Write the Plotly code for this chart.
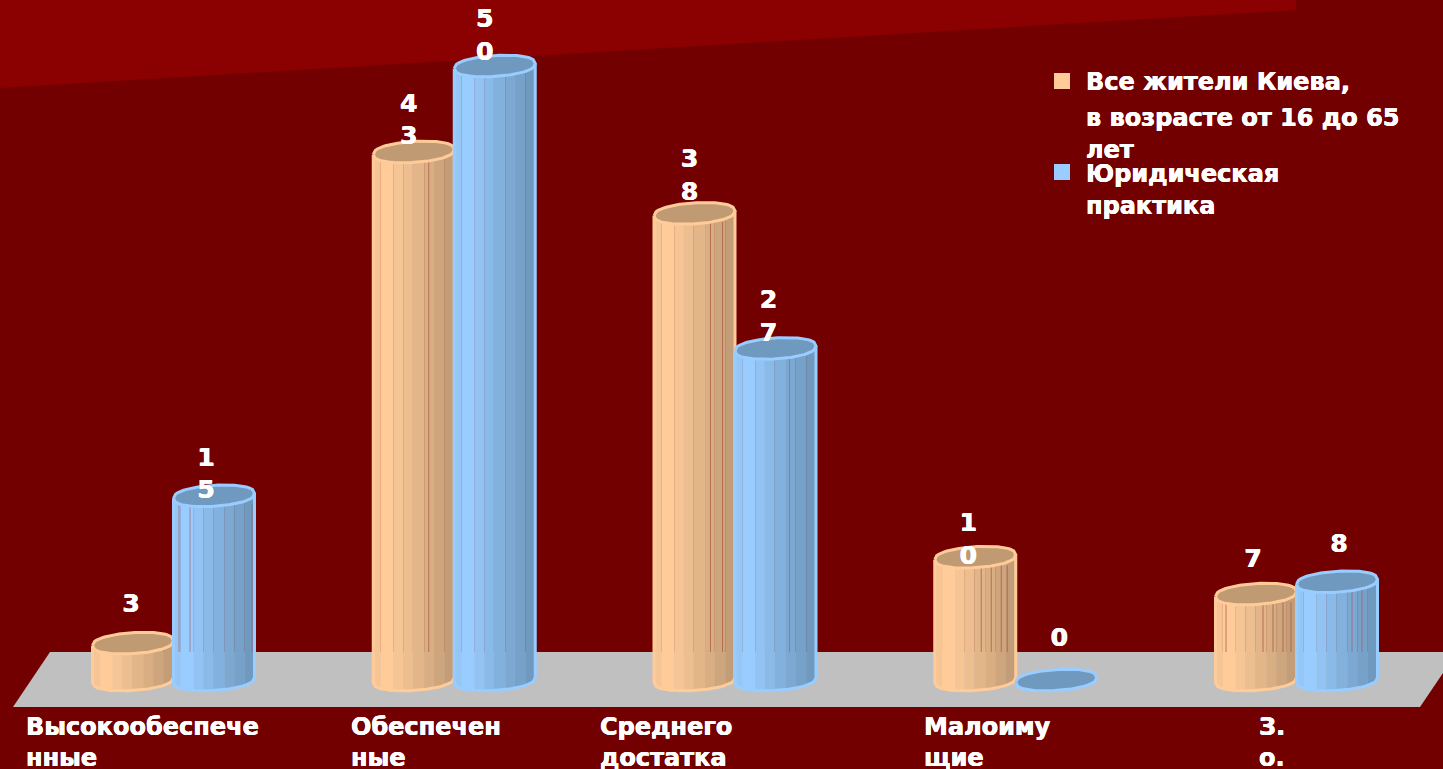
import numpy as np
import plotly.graph_objects as go

# ---- data ----
categories = ["Высокообеспече<br>нные", "Обеспечен<br>ные", "Среднего<br>достатка", "Малоиму<br>щие", "З.<br>о."]
series_kiev = [3, 43, 38, 10, 7]
series_legal = [15, 50, 27, 0, 8]
legend_lines_kiev = ["Все жители Киева,", "в возрасте от 16 до 65", "лет"]
legend_lines_legal = ["Юридическая", "практика"]

# ---- geometry / style ----
W, H = 1443, 769
CAT0_PX, CAT_STEP_PX = 173.5, 280.75
BAR_W_PX, PX_PER_UNIT, ZERO_PX = 81.0, 12.28, 680.0
RY_PX, TILT_PX = 10.5, 2.5
FONT = "DejaVu Sans"
TEXT_SIZE = 24
LABEL_SIZE = 25
SHADOW = "0.35px 0 0 white, -0.35px 0 0 white"
BG = "#730000"
PEACH_STRIPES = ["#F6C596", "#FFCC99", "#F6C595", "#ECBE90", "#E3B68A", "#D9AE83", "#CEA67D", "#C29D77"]
BLUE_STRIPES = ["#94C6F6", "#99CCFF", "#92C3F3", "#8ABAE8", "#83B1DD", "#7CA8D2", "#76A1C8", "#6F99BF"]
STRIPE_EDGES = [-1, -0.82, -0.5, -0.26, -0.02, 0.26, 0.5, 0.76, 1]

sx = 1 / CAT_STEP_PX
sy = 1 / PX_PER_UNIT
half_w = BAR_W_PX / 2 * sx
ry = RY_PX * sy
tilt = TILT_PX * sy
centers = np.arange(len(categories), dtype=float)


def lower(u):
    return -ry * np.clip(1 - u**2, 0, 1) ** 0.42 + tilt * u


def upper(u):
    return ry * np.clip(1 - u**2, 0, 1) ** 0.42 + tilt * u


def stripes(cxs, vals, u0, u1):
    xs, ys = [], []
    us = np.linspace(u0, u1, 10)
    for c, v in zip(cxs, vals):
        xs += list(c + us * half_w) + list(c + us[::-1] * half_w) + [None]
        ys += list(v + tilt * us) + list(lower(us[::-1])) + [None]
    return xs, ys


def body_outline(cxs, vals):
    xs, ys = [], []
    us = np.linspace(-1, 1, 41)
    for c, v in zip(cxs, vals):
        xs += [c - half_w] + list(c + us * half_w) + [c + half_w, None]
        ys += [v - tilt] + list(lower(us)) + [v + tilt, None]
    return xs, ys


def top_cap(cxs, vals):
    xs, ys = [], []
    us = np.linspace(-1, 1, 41)
    for c, v in zip(cxs, vals):
        xs += list(c + us * half_w) + list(c + us[::-1] * half_w) + [None]
        ys += list(v + upper(us)) + list(v + lower(us[::-1])) + [None]
    return xs, ys


fig = go.Figure()


def add_series(vals, side, colors, cap, edge, seams, seam_color, label_dx, label_dy):
    cxs = centers + side * half_w
    for k, col in enumerate(colors):
        xs, ys = stripes(cxs, vals, STRIPE_EDGES[k], STRIPE_EDGES[k + 1])
        fig.add_trace(go.Scatter(x=xs, y=ys, mode="lines", fill="toself", fillcolor=col,
                                 line=dict(width=0.5, color=col), hoverinfo="skip"))
    # thin seams visible above the floor
    sxs, sys = [], []
    floor_top = (ZERO_PX - 652) * sy
    for c, v, offs in zip(cxs, vals, seams):
        for o in offs:
            if v > floor_top:
                sxs += [c + o * sx, c + o * sx, None]
                sys += [floor_top, v - ry * 0.8, None]
    fig.add_trace(go.Scatter(x=sxs, y=sys, mode="lines", line=dict(width=1, color=seam_color), hoverinfo="skip"))
    xs, ys = body_outline(cxs, vals)
    fig.add_trace(go.Scatter(x=xs, y=ys, mode="lines", line=dict(width=3, color=edge), hoverinfo="skip"))
    xs, ys = top_cap(cxs, vals)
    fig.add_trace(go.Scatter(x=xs, y=ys, mode="lines", fill="toself", fillcolor=cap,
                             line=dict(width=3, color=edge), hoverinfo="skip"))
    texts = ["<br>".join(str(v)) for v in vals]
    fig.add_trace(go.Scatter(
        x=cxs + np.array(label_dx) * sx,
        y=np.array(vals, dtype=float) + np.array(label_dy) * sy,
        mode="text", text=texts, textposition="middle center", cliponaxis=False,
        textfont=dict(family=FONT, size=LABEL_SIZE, color="white", weight="bold", shadow=SHADOW),
        hoverinfo="skip"))


add_series(series_kiev, -1, PEACH_STRIPES, "#BF9A73", "#FFCC99",
           [[], [15], [16, 28], [6, 16, 26, 32], [-30, 7, 17, 27, 35]], "rgba(170,90,70,0.75)",
           [-2, -5, -5, -7, -3], [37, 30, 36, 16, 33])
add_series(series_legal, 1, BLUE_STRIPES, "#7099BF", "#99CCFF",
           [[-35, -24, 38], [], [14], [], [15, 25]], "rgba(170,90,90,0.65)",
           [-8, -10, -7, 3, 2], [20, 29, 30, 40, 36])


def poly(pts):
    return "M " + " L ".join(f"{x / W:.5f},{1 - y / H:.5f}" for x, y in pts) + " Z"


shapes = [
    dict(type="path", xref="paper", yref="paper", layer="below", line_width=0, fillcolor="#8B0000",
         path=poly([(0, 0), (1296, 0), (1296, 10), (0, 88)])),
    dict(type="path", xref="paper", yref="paper", layer="below", line_width=0, fillcolor="#C0C0C0",
         path=poly([(50, 652), (1443, 652), (1443, 673), (1420, 707), (13, 707)])),
    dict(type="rect", xref="paper", yref="paper", line_width=0, fillcolor="#FFCC99",
         x0=1054 / W, x1=1070 / W, y0=1 - 89 / H, y1=1 - 73 / H),
    dict(type="rect", xref="paper", yref="paper", line_width=0, fillcolor="#99CCFF",
         x0=1054 / W, x1=1070 / W, y0=1 - 180 / H, y1=1 - 164 / H),
]

annotations = []
label_left_px = [23.5, 348.5, 597.5, 922.5, 1256.5]
text_font = dict(family=FONT, size=TEXT_SIZE, color="white", weight="bold", shadow=SHADOW)
for name, lx in zip(categories, label_left_px):
    annotations.append(dict(xref="paper", yref="paper", x=lx / W, y=1 - 742 / H, text=name, showarrow=False,
                            xanchor="left", yanchor="middle", align="left", font=text_font))
legend_lines = legend_lines_kiev + legend_lines_legal
legend_y_px = [82, 118, 150, 174, 206]
for line, ly in zip(legend_lines, legend_y_px):
    annotations.append(dict(xref="paper", yref="paper", x=1084 / W, y=1 - ly / H, text=line, showarrow=False,
                            xanchor="left", yanchor="middle", align="left", font=text_font))

fig.update_layout(
    width=W, height=H, autosize=False, margin=dict(l=0, r=0, t=0, b=0, pad=0),
    paper_bgcolor=BG, plot_bgcolor="rgba(0,0,0,0)", showlegend=False,
    xaxis=dict(visible=False, range=[-CAT0_PX * sx, (W - CAT0_PX) * sx], fixedrange=True),
    yaxis=dict(visible=False, range=[-(H - ZERO_PX) * sy, ZERO_PX * sy], fixedrange=True),
    shapes=shapes, annotations=annotations,
)

fig.write_html("out.html", config={"displayModeBar": False},
               post_script="document.body.style.margin='0';document.body.style.overflow='hidden';document.body.style.background='#730000';")
